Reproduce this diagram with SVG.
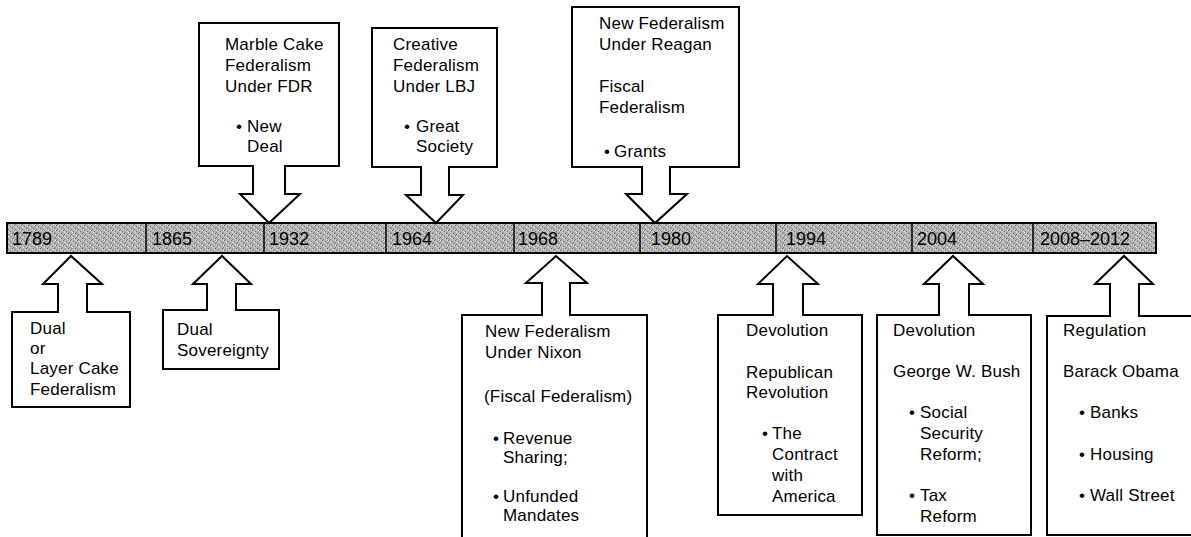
<svg xmlns="http://www.w3.org/2000/svg" width="1191" height="537" viewBox="0 0 1191 537">
<style>
.box{fill:#fff;stroke:#000;stroke-width:2;stroke-linejoin:miter}
.t{font-family:"Liberation Sans",Arial,Helvetica,sans-serif;font-size:17px;fill:#000;letter-spacing:0.2px}
.yr{font-family:"Liberation Sans",Arial,Helvetica,sans-serif;font-size:18px;fill:#000}
.div{stroke:#000;stroke-width:1.5}
</style>
<defs>
<pattern id="noise" width="7" height="5" patternUnits="userSpaceOnUse">
<rect width="7" height="5" fill="#b4b4b4"/>
<rect x="0" y="0" width="1" height="1" fill="#6a6a6a"/>
<rect x="3" y="1" width="1" height="1" fill="#7a7a7a"/>
<rect x="5" y="3" width="1" height="1" fill="#666"/>
<rect x="1" y="4" width="1" height="1" fill="#808080"/>
<rect x="2" y="2" width="1" height="1" fill="#e2e2e2"/>
<rect x="6" y="0" width="1" height="1" fill="#e8e8e8"/>
<rect x="4" y="4" width="1" height="1" fill="#dcdcdc"/>
<rect x="6" y="2" width="1" height="1" fill="#8a8a8a"/>
<rect x="1" y="1" width="1" height="1" fill="#d6d6d6"/>
</pattern>
</defs>
<rect width="1191" height="537" fill="#fff"/>

<g id="timeline">
<rect x="7" y="223" width="1149" height="30" fill="url(#noise)" stroke="#000" stroke-width="2"/>
<line class="div" x1="146" y1="223" x2="146" y2="253"/>
<line class="div" x1="264" y1="223" x2="264" y2="253"/>
<line class="div" x1="386" y1="223" x2="386" y2="253"/>
<line class="div" x1="514" y1="223" x2="514" y2="253"/>
<line class="div" x1="640" y1="223" x2="640" y2="253"/>
<line class="div" x1="776" y1="223" x2="776" y2="253"/>
<line class="div" x1="912" y1="223" x2="912" y2="253"/>
<line class="div" x1="1033" y1="223" x2="1033" y2="253"/>
<text class="yr" x="12" y="245">1789</text>
<text class="yr" x="152" y="245">1865</text>
<text class="yr" x="269" y="245">1932</text>
<text class="yr" x="392" y="245">1964</text>
<text class="yr" x="518" y="245">1968</text>
<text class="yr" x="651" y="245">1980</text>
<text class="yr" x="786" y="245">1994</text>
<text class="yr" x="917" y="245">2004</text>
<text class="yr" x="1040" y="245">2008–2012</text>
</g>

<g id="connectors"></g>

<g id="marble">
<path class="box" d="M199,23 H339 V166 H285 V194 H300 L269,223 L240,194 H253 V166 H199 Z"/>
<text class="t" x="225" y="50">Marble Cake</text>
<text class="t" x="225" y="71">Federalism</text>
<text class="t" x="225" y="92">Under FDR</text>
<text class="t" x="236" y="132">•<tspan x="247">New</tspan></text>
<text class="t" x="247" y="152">Deal</text>
</g>

<g id="creative">
<path class="box" d="M372,28 H497 V167 H449 V195 H463 L436,223 L406,195 H421 V167 H372 Z"/>
<text class="t" x="393" y="50">Creative</text>
<text class="t" x="393" y="71">Federalism</text>
<text class="t" x="393" y="92">Under LBJ</text>
<text class="t" x="404" y="132">•<tspan x="416">Great</tspan></text>
<text class="t" x="416" y="152">Society</text>
</g>

<g id="reagan">
<path class="box" d="M572,7 H739 V167 H670 V194 H687 L655,223 L626,194 H642 V167 H572 Z"/>
<text class="t" x="599" y="29">New Federalism</text>
<text class="t" x="599" y="50">Under Reagan</text>
<text class="t" x="599" y="92">Fiscal</text>
<text class="t" x="599" y="113">Federalism</text>
<text class="t" x="604" y="157">•<tspan x="614">Grants</tspan></text>
</g>

<g id="dual">
<path class="box" d="M12,312 H58 V284 H43 L71,256 L102,284 H87 V312 H130 V407 H12 Z"/>
<text class="t" x="30" y="334">Dual</text>
<text class="t" x="30" y="354">or</text>
<text class="t" x="30" y="374">Layer Cake</text>
<text class="t" x="30" y="395">Federalism</text>
</g>

<g id="dualsov">
<path class="box" d="M163,310 H207 V284 H193 L222,256 L251,284 H236 V310 H279 V369 H163 Z"/>
<text class="t" x="177" y="335">Dual</text>
<text class="t" x="177" y="356">Sovereignty</text>
</g>

<g id="nixon">
<path class="box" d="M462,315 H542 V283 H526 L556,256 L587,283 H570 V315 H647 V545 H462 Z"/>
<text class="t" x="485" y="337">New Federalism</text>
<text class="t" x="485" y="358">Under Nixon</text>
<text class="t" x="484" y="402">(Fiscal Federalism)</text>
<text class="t" x="493" y="444">•<tspan x="503">Revenue</tspan></text>
<text class="t" x="503" y="463">Sharing;</text>
<text class="t" x="493" y="502">•<tspan x="503">Unfunded</tspan></text>
<text class="t" x="503" y="521">Mandates</text>
</g>

<g id="devolution1">
<path class="box" d="M718,315 H773 V284 H758 L787,256 L818,284 H803 V315 H862 V515 H718 Z"/>
<text class="t" x="746" y="336">Devolution</text>
<text class="t" x="746" y="378">Republican</text>
<text class="t" x="746" y="398">Revolution</text>
<text class="t" x="762" y="439">•<tspan x="772">The</tspan></text>
<text class="t" x="772" y="460">Contract</text>
<text class="t" x="772" y="481">with</text>
<text class="t" x="772" y="502">America</text>
</g>

<g id="devolution2">
<path class="box" d="M877,315 H939 V284 H924 L953,256 L983,284 H969 V315 H1031 V535 H877 Z"/>
<text class="t" x="893" y="336">Devolution</text>
<text class="t" x="893" y="377">George W. Bush</text>
<text class="t" x="909" y="418">•<tspan x="920">Social</tspan></text>
<text class="t" x="920" y="439">Security</text>
<text class="t" x="920" y="460">Reform;</text>
<text class="t" x="909" y="501">•<tspan x="920">Tax</tspan></text>
<text class="t" x="920" y="522">Reform</text>
</g>

<g id="regulation">
<path class="box" d="M1047,316 H1110 V284 H1095 L1124,256 L1153,284 H1139 V316 H1201 V535 H1047 Z"/>
<text class="t" x="1063" y="336">Regulation</text>
<text class="t" x="1063" y="377">Barack Obama</text>
<text class="t" x="1079" y="418">•<tspan x="1090">Banks</tspan></text>
<text class="t" x="1079" y="460">•<tspan x="1090">Housing</tspan></text>
<text class="t" x="1079" y="501">•<tspan x="1090">Wall Street</tspan></text>
</g>
</svg>
